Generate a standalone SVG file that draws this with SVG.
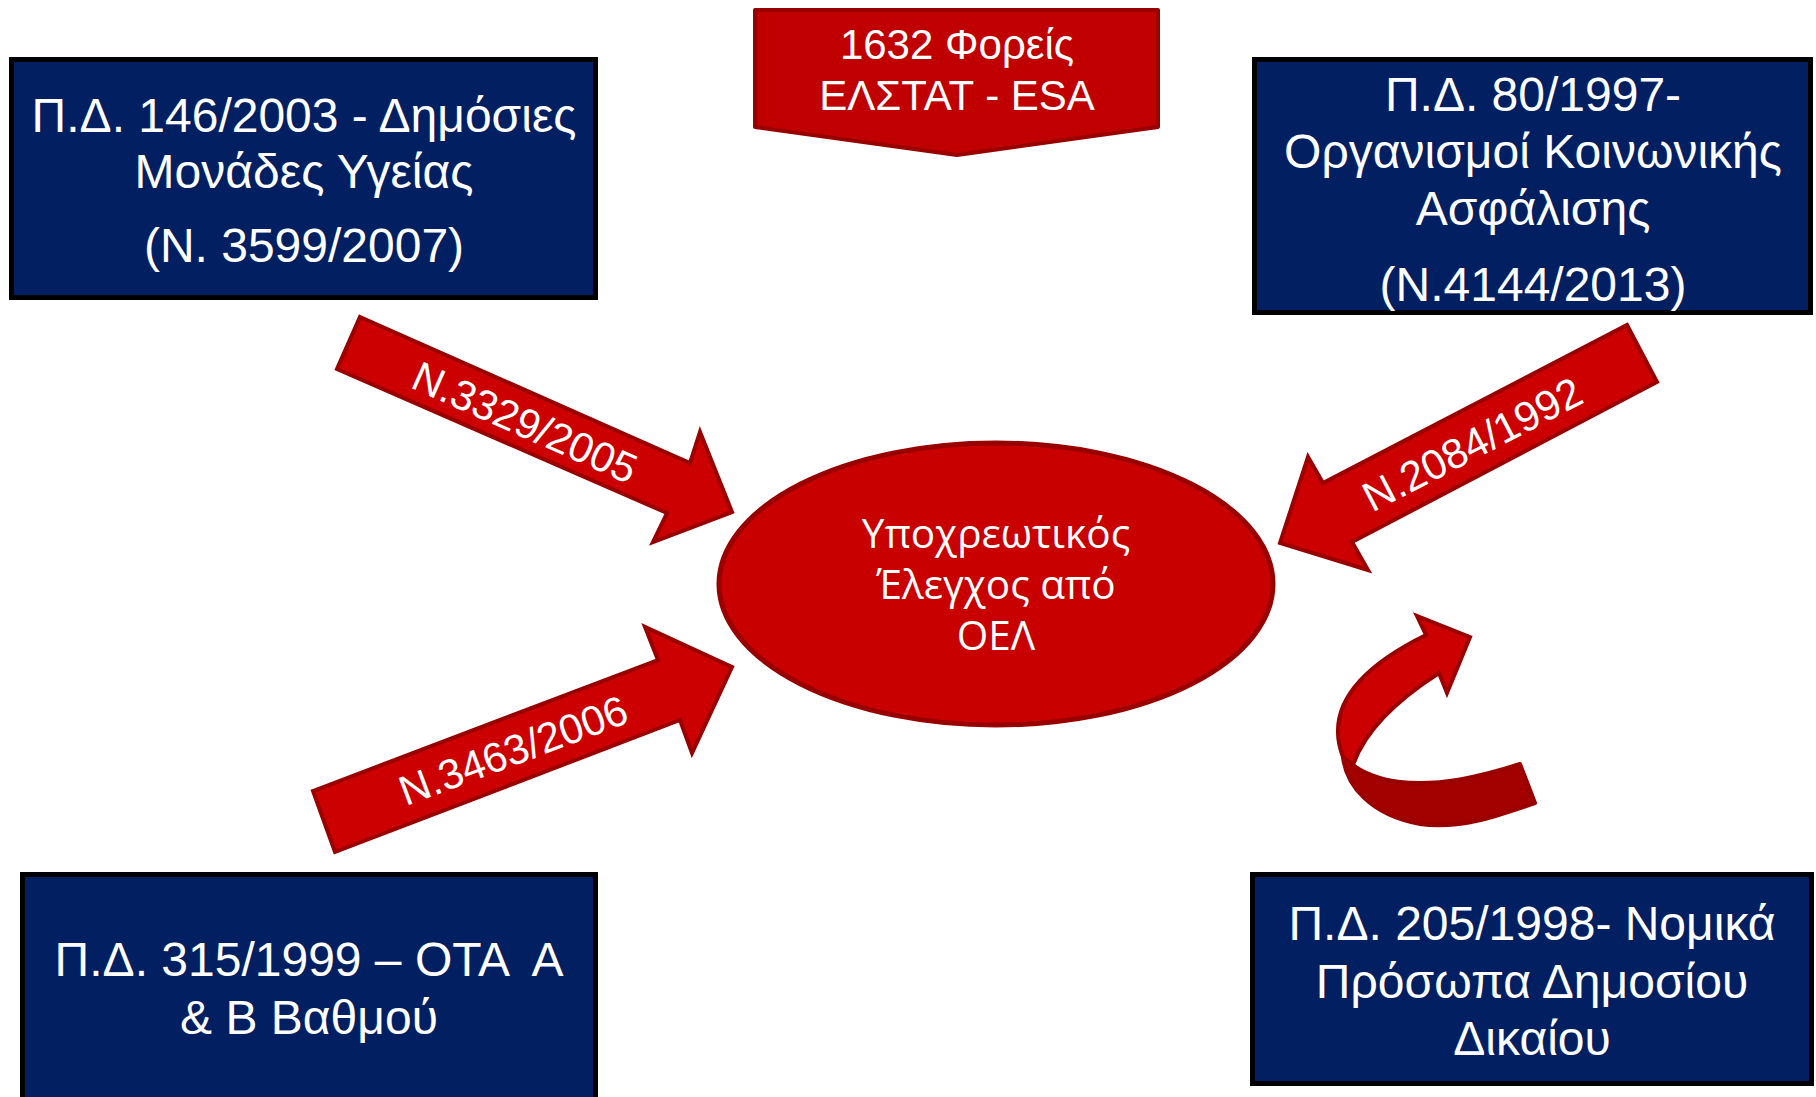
<svg xmlns="http://www.w3.org/2000/svg" width="1816" height="1097" viewBox="0 0 1816 1097">
<style>
.box{fill:#022061;stroke:#000;stroke-width:5}
.bt{font-family:"Liberation Sans",Arial,sans-serif;font-size:48px;fill:#fff;text-anchor:middle}
.red{fill:#CC0000;stroke:#990000;stroke-width:4;stroke-linejoin:miter}
.at{font-family:"Liberation Sans",Arial,sans-serif;font-size:42px;fill:#fff;text-anchor:middle}
.pt{font-family:"Liberation Sans",Arial,sans-serif;font-size:42px;fill:#fff;text-anchor:middle}
.et{font-family:"Open Sans","Noto Sans",sans-serif;font-size:40.5px;fill:#fff;text-anchor:middle}
</style>
<rect width="1816" height="1097" fill="#fff"/>
<g id="connectors">
  <g id="arrow-3329">
    <polygon class="red" points="360,317 690,463 700,432 732,512 653,542 667,513 337,369"/>
    <text class="at" transform="translate(525,422) rotate(23.9)" y="15">N.3329/2005</text>
  </g>
  <g id="arrow-3463">
    <polygon class="red" points="313,791 658,660 645,627 732,667 692,753 680,720 335,852"/>
    <text class="at" transform="translate(513,750) rotate(-20.6)" y="15">N.3463/2006</text>
  </g>
  <g id="arrow-2084">
    <polygon class="red" points="1627,325 1657,382 1352,542 1368,570 1280,543 1308,457 1323,483"/>
    <text class="at" transform="translate(1472,444) rotate(-27.5)" y="15">N.2084/1992</text>
  </g>
  <g id="arrow-curved">
    <path d="M1343,757 C1346,785 1370,815 1420,824 C1460,830 1500,815 1535,803 L1520,764 C1480,777 1440,786 1400,782 C1380,780 1362,772 1353,765 Z" fill="#A30000" stroke="#990000" stroke-width="4" stroke-linejoin="round"/>
    <path d="M1343,757 C1325,710 1355,670 1426,635 L1417,616 L1470,637 L1447,693 L1439,673 C1400,698 1365,730 1353,765 Z" class="red" stroke-linejoin="round"/>
  </g>
</g>
<g id="node-top">
  <polygon points="755,10 1158,10 1158,127 957,155 755,127" fill="#C00000" stroke="#990000" stroke-width="4" stroke-linejoin="round"/>
  <text class="pt" x="957" y="59">1632 Φορείς</text>
  <text class="pt" x="957" y="110">ΕΛΣΤΑΤ - ESA</text>
</g>
<g id="node-tl">
  <rect class="box" x="11.5" y="59.5" width="584" height="238"/>
  <text class="bt" x="304" y="132">Π.Δ. 146/2003 - Δημόσιες</text>
  <text class="bt" x="304" y="188">Μονάδες Υγείας</text>
  <text class="bt" x="304" y="262">(Ν. 3599/2007)</text>
</g>
<g id="node-tr">
  <rect class="box" x="1254.5" y="59.5" width="556" height="253"/>
  <text class="bt" x="1533" y="111">Π.Δ. 80/1997-</text>
  <text class="bt" x="1533" y="168">Οργανισμοί Κοινωνικής</text>
  <text class="bt" x="1533" y="225">Ασφάλισης</text>
  <text class="bt" x="1533" y="301">(Ν.4144/2013)</text>
</g>
<g id="node-bl">
  <rect class="box" x="22.5" y="874.5" width="573" height="240"/>
  <text class="bt" x="309" y="976" xml:space="preserve">Π.Δ. 315/1999 – ΟΤΑ  Α</text>
  <text class="bt" x="309" y="1034">&amp; Β Βαθμού</text>
</g>
<g id="node-br">
  <rect class="box" x="1252.5" y="874.5" width="559" height="209"/>
  <text class="bt" x="1532" y="940">Π.Δ. 205/1998- Νομικά</text>
  <text class="bt" x="1532" y="998">Πρόσωπα Δημοσίου</text>
  <text class="bt" x="1532" y="1055">Δικαίου</text>
</g>
<g id="node-center">
  <ellipse cx="996" cy="584" rx="277" ry="141" fill="#C80000" stroke="#990000" stroke-width="5"/>
  <text class="et" x="996" y="548">Υποχρεωτικός</text>
  <text class="et" x="996" y="599">Έλεγχος από</text>
  <text class="et" x="996" y="650">ΟΕΛ</text>
</g>
</svg>
